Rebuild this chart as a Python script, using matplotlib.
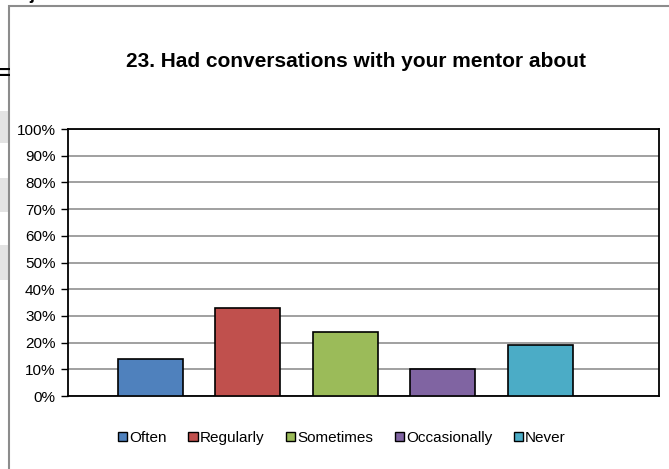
import numpy as np
import matplotlib
matplotlib.use("Agg")
import matplotlib.pyplot as plt
from matplotlib.patches import Patch, Rectangle

plt.rcParams["font.family"] = ["Liberation Sans", "DejaVu Sans"]

# data (percent of respondents)
categories = ["Often", "Regularly", "Sometimes", "Occasionally", "Never"]
values = [14, 33, 24, 10, 19]
colors = ["#4F81BD", "#C0504D", "#9BBB59", "#8064A2", "#4BACC6"]
y_ticks = list(range(0, 101, 10))
title = "23. Had conversations with your mentor about"

W, H = 669, 469
fig = plt.figure(figsize=(W / 100, H / 100), dpi=100)


def px(x, y):
    # pixel (from top-left) -> figure fraction
    return x / W, 1 - y / H


# bits of the spreadsheet around the chart
for y0, y1 in [(111, 143), (178, 212), (245, 280)]:
    fig.patches.append(Rectangle(px(0, y1), 9 / W, (y1 - y0) / H, transform=fig.transFigure,
                                 facecolor="#E3E3E3", edgecolor="none", zorder=0))
fig.text(*px(-3, 75), "=", fontsize=16, fontweight="bold", va="center", ha="left")
fig.text(*px(20, -1), "ajor and interests", fontsize=13, fontweight="bold", va="baseline", ha="left")

# chart area frame
fig.patches.append(Rectangle(px(9, 480), 700 / W, 474 / H, transform=fig.transFigure,
                             facecolor="white", edgecolor="#8C8C8C", linewidth=1.5, zorder=1))

# plot area
left, top, right, bottom = 68, 129, 659, 396
ax = fig.add_axes([left / W, 1 - bottom / H, (right - left) / W, (bottom - top) / H], zorder=2)

x = np.arange(len(categories))
ax.bar(x, values, width=0.667, color=colors, edgecolor="black", linewidth=1.2, zorder=3)

ax.set_xlim(-0.844, len(categories) - 1 + 1.217)
ax.set_ylim(0, 100)
ax.set_yticks(y_ticks)
ax.set_yticklabels([f"{v}%" for v in y_ticks], fontsize=11)
ax.set_xticks([])
ax.tick_params(axis="y", length=5, width=1, pad=4, direction="out", color="black")
ax.grid(axis="y", color="#868686", linewidth=1.1, zorder=0)
ax.set_axisbelow(True)
for s in ax.spines.values():
    s.set_color("black")
    s.set_linewidth(1.3)

fig.text(*px(356, 61), title, fontsize=15, fontweight="bold", ha="center", va="center")

handles = [Patch(facecolor=c, edgecolor="black", linewidth=1.0) for c in colors]
fig.legend(handles, categories, loc="center", bbox_to_anchor=px(342, 438), ncol=5,
           frameon=False, fontsize=11, handlelength=0.6, handleheight=0.6,
           handletextpad=0.15, columnspacing=1.4)

fig.savefig("out.png", dpi=100)
